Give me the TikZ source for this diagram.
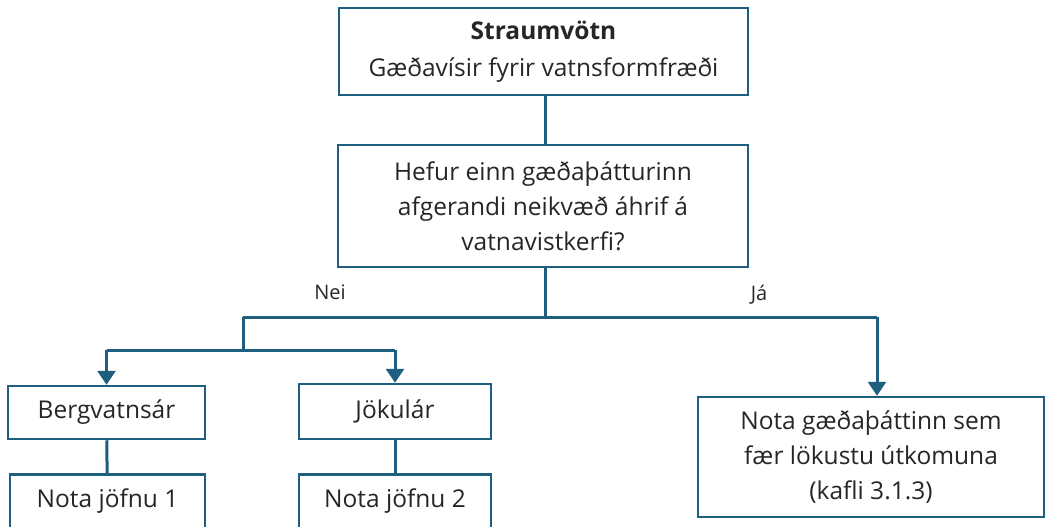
\documentclass[tikz,border=0pt]{standalone}
\usepackage{fontspec}
\setmainfont{Open Sans}
\usetikzlibrary{arrows.meta}
\definecolor{edge}{RGB}{30,95,128}
\tikzset{
  box/.style={draw=edge, line width=2.5pt, rectangle, inner sep=0pt, align=center, font=\fontsize{24.5}{35}\selectfont, text=black!85},
  conn/.style={draw=edge, line width=3pt},
  arr/.style={conn, -{Triangle[width=18pt,length=14pt]}},
  lbl/.style={font=\fontsize{20}{24}\selectfont, text=black!85}
}
\begin{document}
\begin{tikzpicture}[x=1pt,y=-1pt]
\useasboundingbox (0,0) rectangle (1046,527);
\fill[white] (0,0) rectangle (1046,527);
\node[box, minimum width=409pt, minimum height=87pt, font=\fontsize{24.5}{37}\selectfont] (top) at (543.5,51.5) {\textbf{Straumvötn}\\Gæðavísir fyrir vatnsformfræði};
\node[box, minimum width=410pt, minimum height=122pt] (q) at (543,206) {Hefur einn gæðaþátturinn\\afgerandi neikvæð áhrif á\\vatnavistkerfi?};
\node[box, minimum width=197pt, minimum height=53pt] (berg) at (106.5,412.5) {Bergvatnsár};
\node[box, minimum width=192pt, minimum height=55pt] (jok) at (395,411.5) {Jökulár};
\node[box, minimum width=195pt, text height=33pt, text depth=40pt, anchor=north] (n1) at (107.5,473) {Nota jöfnu 1};
\node[box, minimum width=192pt, text height=33pt, text depth=40pt, anchor=north] (n2) at (395,473) {Nota jöfnu 2};
\node[box, minimum width=346pt, minimum height=120pt] (act) at (871,457) {Nota gæðaþáttinn sem\\fær lökustu útkomuna\\(kafli 3.1.3)};
\coordinate (j) at (545,317);
\coordinate (jl) at (243,317);
\coordinate (jr) at (877,317);
\coordinate (bl) at (243,350);
\draw[conn] (top.south -| j) -- (q.north -| j);
\draw[conn] (q.south -| j) -- (j);
\draw[conn] (jl) -- (jr);
\draw[conn] (jl) -- (bl);
\draw[conn] (berg.north |- bl) -- (jok.north |- bl);
\draw[arr] (berg.north |- bl) -- (berg.north);
\draw[arr] (jok.north |- bl) -- (jok.north);
\draw[arr] (jr) -- (jr |- act.north);
\draw[conn] (berg) -- (n1);
\draw[conn] (jok) -- (n2);
\node[lbl] (nei) at (330,292) {Nei};
\node[lbl] (ja) at (759,295) {Já};
\end{tikzpicture}
\end{document}
